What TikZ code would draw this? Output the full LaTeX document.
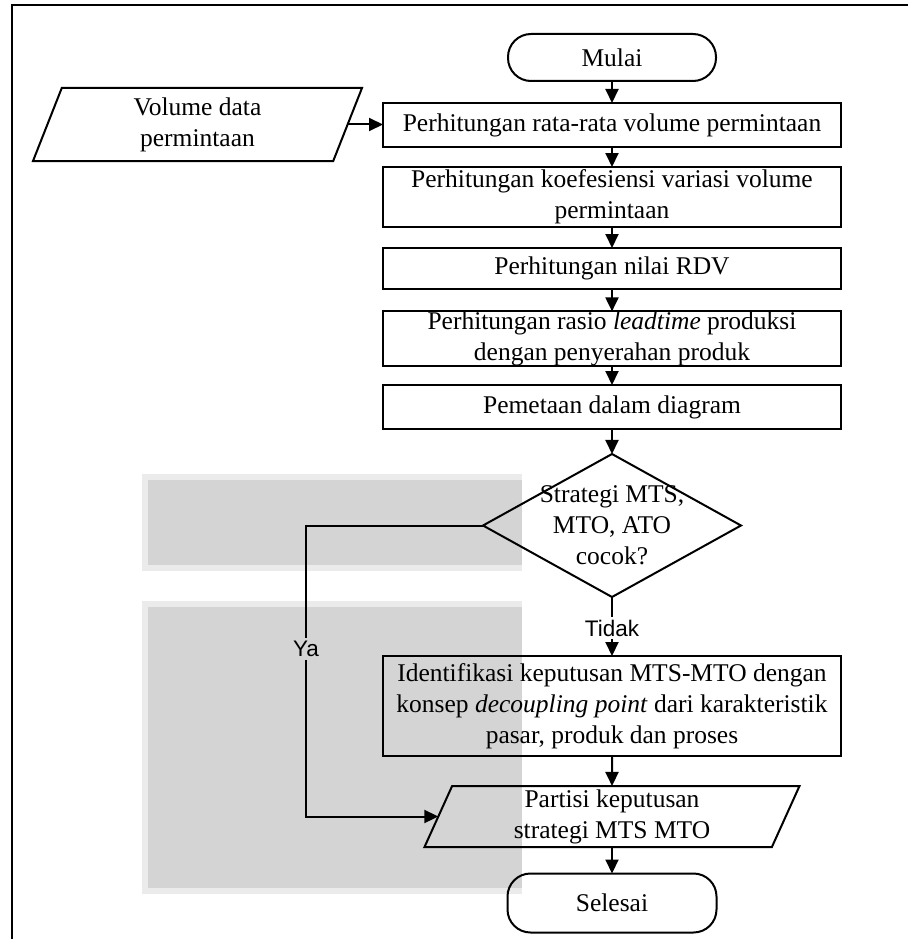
\documentclass[tikz,border=0pt]{standalone}
\usepackage{fontspec}
\setmainfont{Liberation Serif}
\newfontfamily\lblfont{Liberation Sans}
\usetikzlibrary{shapes.geometric,arrows.meta}
\definecolor{wmgray}{HTML}{D4D4D4}
\definecolor{wmhalo}{HTML}{EBEBEB}
\begin{document}
\begin{tikzpicture}[x=1pt,y=-1pt,
  every node/.style={font=\fontsize{25.5}{31}\selectfont, inner sep=0pt, outer sep=0pt},
  proc/.style={draw, line width=2pt, rectangle, minimum width=458pt, align=center},
  term/.style={draw, line width=2pt, rectangle, rounded corners=23pt, align=center},
  io/.style={draw, line width=2pt, trapezium, trapezium stretches body, align=center},
  dec/.style={draw, line width=2pt, diamond},
  link/.style={line width=2pt},
  arr/.style={line width=2pt, -{Triangle[length=14pt,width=13pt]}},
  lbl/.style={font=\lblfont\fontsize{22.5}{26}\selectfont, inner sep=3pt}
]
\useasboundingbox (0,0) rectangle (908,939);
% watermark blocks
\fill[wmhalo] (142,474) rectangle (522,571);
\fill[wmgray] (148,480) rectangle (522,565);
\fill[wmhalo] (142,601) rectangle (522,894);
\fill[wmgray] (148,607) rectangle (522,888);
% frame
\draw[line width=2.2pt] (12,939) -- (12,5) -- (908,5);

\node[term, minimum width=208pt, minimum height=47pt] (mulai) at (612,57.5) {Mulai};
\node[io, trapezium left angle=62, trapezium right angle=118, minimum width=329pt, minimum height=73pt] (vol) at (197.5,124.5) {Volume data\\permintaan};
\node[proc, minimum height=44pt] (b1) at (612,125) {Perhitungan rata-rata volume permintaan};
\node[proc, minimum height=60pt] (b2) at (612,197) {Perhitungan koefesiensi variasi volume\\permintaan};
\node[proc, minimum height=41pt] (b3) at (612,268.5) {Perhitungan nilai RDV};
\node[proc, minimum height=53pt] (b4) at (612,338.5) {Perhitungan rasio \textit{leadtime} produksi\\dengan penyerahan produk};
\node[proc, minimum height=44pt] (b5) at (612,407) {Pemetaan dalam diagram};
\node[dec, minimum width=258pt, minimum height=143pt] (dia) at (612,525.5) {};
\node[align=center] (diatext) at (dia) {Strategi MTS,\\MTO, ATO\\cocok?};
\node[lbl] (tidak) at (612,628) {Tidak};
\node[lbl] (ya) at (306,649) {Ya};
\node[proc, minimum height=100pt] (b6) at (612,706) {Identifikasi keputusan MTS-MTO dengan\\konsep \textit{decoupling point} dari karakteristik\\pasar, produk dan proses};
\node[io, trapezium left angle=63, trapezium right angle=117, minimum width=375pt, minimum height=61pt] (part) at (612,816.5) {Partisi keputusan\\strategi MTS MTO};
\node[term, minimum width=209pt, minimum height=59pt] (selesai) at (612,903) {Selesai};

\draw[arr] (mulai) -- (b1);
\draw[arr] (vol.east) -- (vol.east -| b1.west);
\draw[arr] (b1) -- (b2);
\draw[arr] (b2) -- (b3);
\draw[arr] (b3) -- (b4);
\draw[arr] (b4) -- (b5);
\draw[arr] (b5) -- (dia);
\draw[link] (dia.south) -- (tidak.north);
\draw[arr] (tidak.south) -- (b6);
\draw[link] (dia.west) -| (ya.north);
\draw[arr] (ya.south) |- (part.west);
\draw[arr] (b6) -- (part);
\draw[arr] (part) -- (selesai);
\end{tikzpicture}
\end{document}
